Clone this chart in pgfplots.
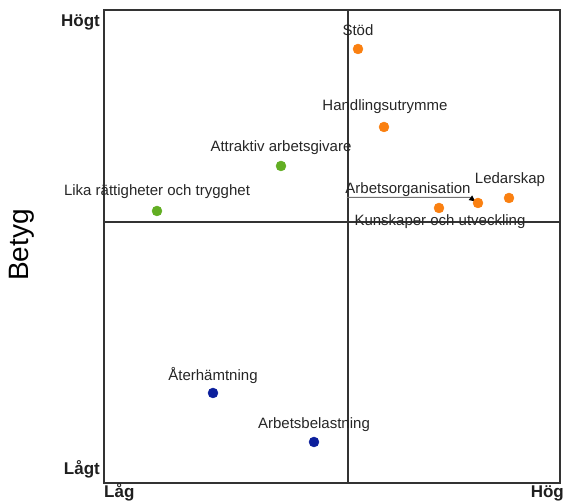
\documentclass[border=0pt]{standalone}
\usepackage{pgfplots}
\pgfplotsset{compat=1.18}
\usepackage{fontspec}
\setmainfont{Liberation Sans}
\usetikzlibrary{arrows.meta}
\definecolor{orangeP}{HTML}{FA8011}
\definecolor{greenP}{HTML}{62AE23}
\definecolor{blueP}{HTML}{0C1F9C}
\definecolor{txt}{HTML}{262626}
\begin{document}
\begin{tikzpicture}
\begin{axis}[
  name=ax,
  scale only axis,
  width=456pt, height=473pt,
  xmin=104, xmax=560, ymin=19, ymax=492,
  axis line style={draw=black!80, line width=1.2pt},
  xtick=\empty, ytick=\empty,
  clip=false,
  nodes near coords,
  point meta=explicit symbolic,
  every node near coord/.append style={font=\fontsize{15}{17}\selectfont, text=txt, anchor=center},
]
% quadrant lines
\draw[black!80, line width=1.2pt] (axis cs:348,19) -- (axis cs:348,492);
\draw[black!80, line width=1.2pt] (axis cs:104,280) -- (axis cs:560,280);

% orange
\addplot[only marks, mark=*, mark size=5pt, color=orangeP,
  visualization depends on={value \thisrow{dy} \as \dy},
  visualization depends on={value \thisrow{dx} \as \dx},
  every node near coord/.append style={yshift=\dy pt, xshift=\dx pt}]
  table[meta=label] {
x y dx dy label
358 453 0 19 {Stöd}
384 375 1 20 {Handlingsutrymme}
509 304 1 18 {Ledarskap}
439 294 1 -14 {Kunskaper\ och\ utveckling}
};
% Arbetsorganisation point (label drawn separately)
\addplot[only marks, mark=*, mark size=5pt, color=orangeP] coordinates {(478,299)};

% green
\addplot[only marks, mark=*, mark size=5pt, color=greenP,
  visualization depends on={value \thisrow{dy} \as \dy},
  every node near coord/.append style={yshift=\dy pt}]
  table[meta=label] {
x y dy label
281 336 18 {Attraktiv\ arbetsgivare}
157 291 19 {Lika\ rättigheter\ och\ trygghet}
};

% blue
\addplot[only marks, mark=*, mark size=5pt, color=blueP,
  visualization depends on={value \thisrow{dy} \as \dy},
  every node near coord/.append style={yshift=\dy pt}]
  table[meta=label] {
x y dy label
213 109 17 {Återhämtning}
314 60 17 {Arbetsbelastning}
};

% Arbetsorganisation label with leader line
\node[font=\fontsize{15}{17}\selectfont, text=txt] at (axis cs:408,312) {Arbetsorganisation};
\draw[black!55, line width=1pt, -{Latex[black,length=7pt,width=6pt]}] (axis cs:347,304.5) -- (axis cs:470,304.5) -- (axis cs:476,300);

% axis end labels
\node[font=\bfseries\fontsize{17}{19}\selectfont, text=black!88, anchor=base east, inner sep=0pt] at (axis cs:100,475) {Högt};
\node[font=\bfseries\fontsize{17}{19}\selectfont, text=black!88, anchor=base east, inner sep=0pt] at (axis cs:100,27) {Lågt};
\node[font=\bfseries\fontsize{17}{19}\selectfont, text=black!88, anchor=base west, inner sep=0pt] at (axis cs:104,4) {Låg};
\node[font=\bfseries\fontsize{17}{19}\selectfont, text=black!88, anchor=base east, inner sep=0pt] at (axis cs:564,4) {Hög};
\node[font=\fontsize{28}{32}\selectfont, rotate=90, inner sep=0pt] at (axis cs:22,257) {Betyg};
\end{axis}
\path ([shift={(-104pt,-19pt)}]ax.south west) rectangle ([shift={(6pt,10pt)}]ax.north east);
\end{tikzpicture}
\end{document}
